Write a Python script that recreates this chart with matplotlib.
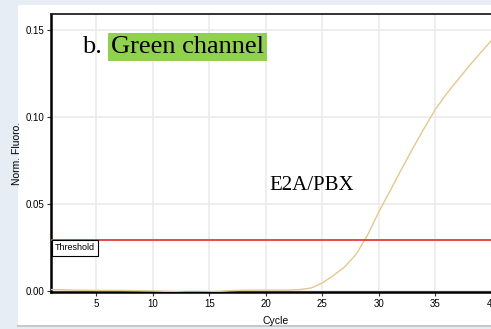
import matplotlib
matplotlib.use("Agg")
import matplotlib.pyplot as plt
from matplotlib.patches import Rectangle

cycles = list(range(1, 41))
fluoro = [0.0008, 0.0007, 0.0005, 0.0004, 0.0003, 0.0003, 0.0003, 0.0002, 0.0001, 0.0000,
          -0.0002, -0.0004, -0.0006, -0.0006, -0.0005, -0.0002, 0.0002, 0.0004, 0.0005, 0.0005,
          0.0005, 0.0005, 0.0008, 0.0017, 0.0046, 0.0090, 0.0140, 0.0212, 0.0322, 0.0455,
          0.0577, 0.0700, 0.0820, 0.0935, 0.1045, 0.1135, 0.1215, 0.1295, 0.1370, 0.1443]
threshold = 0.0293
xticks = [5, 10, 15, 20, 25, 30, 35, 40]
yticks = [0.00, 0.05, 0.10, 0.15]
ytick_labels = ["0.00", "0.05", "0.10", "0.15"]

fig = plt.figure(figsize=(4.91, 3.29), dpi=100)
fig.patch.set_facecolor("#e6edf5")
# white panel
fig.patches.append(Rectangle((18/491, 1-326/329), 1, (326-5)/329, transform=fig.transFigure,
                             facecolor="white", edgecolor="none", zorder=-5))
fig.add_artist(plt.Line2D([18/491, 1], [1-326/329, 1-326/329], color="#c8c8c8", lw=1.5,
                          transform=fig.transFigure, zorder=-4))

ax = fig.add_axes([51/491, 1-292/329, 1-51/491 + 0.002, (292-14)/329], zorder=2)
ax.set_facecolor("white")
ax.plot(cycles, fluoro, color="#e2c98c", lw=1.0, zorder=3)
ax.axhline(threshold, color="#e8383a", lw=1.3, zorder=4)
ax.set_xlim(1, 40)
ax.set_ylim(-0.0006, 0.1592)
ax.set_xticks(xticks)
ax.set_xticklabels([str(t) for t in xticks], fontsize=7, family="Liberation Sans")
ax.set_yticks(yticks)
ax.set_yticklabels(ytick_labels, fontsize=7, family="Liberation Sans")
ax.tick_params(length=3, width=0.8, pad=2, color="#333333")
ax.grid(True, color="#ebebeb", lw=1.2)
ax.set_axisbelow(True)
for s in ["left", "bottom"]:
    ax.spines[s].set_linewidth(1.8)
    ax.spines[s].set_color("black")
ax.spines["top"].set_linewidth(1.3)
ax.spines["top"].set_color("#222222")
ax.spines["right"].set_visible(False)

ax.set_xlabel("Cycle", fontsize=7.5, family="Liberation Sans", labelpad=1)
ax.xaxis.set_label_coords((275-51)/440, -0.085)
ax.set_ylabel("Norm. Fluoro.", fontsize=7.5, family="Liberation Sans")
ax.yaxis.set_label_coords(-(51-22)/440, 0.5)

# title
fig.text(82/491, 1-47/329, "b.", fontsize=19, family="Liberation Serif", va="center", ha="left")
fig.text(111/491, 1-47/329, "Green channel", fontsize=19, family="Liberation Serif",
         va="center", ha="left",
         bbox=dict(facecolor="#92d050", edgecolor="none", boxstyle="square,pad=0.12"))
fig.text(312/491, 1-186/329, "E2A/PBX", fontsize=15, family="Liberation Serif",
         va="center", ha="center")
fig.text(55/491, 1-248/329, "Threshold", fontsize=6.5, family="Liberation Sans",
         va="center", ha="left",
         bbox=dict(facecolor="white", edgecolor="black", lw=0.8, boxstyle="square,pad=0.35"))

fig.savefig("out.png", dpi=100, facecolor=fig.get_facecolor())
